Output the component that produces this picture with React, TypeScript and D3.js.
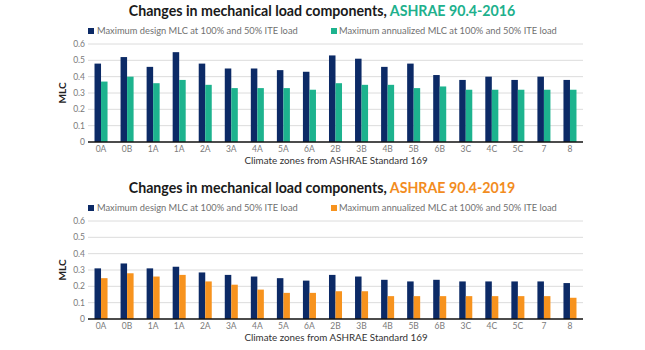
import React from "react";
import * as d3 from "d3";

const zones = ["0A","0B","1A","1A","2A","3A","4A","5A","6A","2B","3B","4B","5B","6B","3C","4C","5C","7","8"];
const design2016 = [0.48,0.52,0.46,0.55,0.48,0.45,0.45,0.44,0.43,0.53,0.51,0.46,0.48,0.41,0.38,0.40,0.38,0.40,0.38];
const annual2016 = [0.37,0.40,0.36,0.38,0.35,0.33,0.33,0.33,0.32,0.36,0.35,0.35,0.33,0.34,0.32,0.32,0.32,0.32,0.32];
const design2019 = [0.31,0.34,0.31,0.32,0.285,0.27,0.26,0.25,0.235,0.27,0.26,0.24,0.23,0.24,0.23,0.23,0.23,0.23,0.22];
const annual2019 = [0.25,0.28,0.26,0.27,0.23,0.21,0.18,0.16,0.16,0.17,0.17,0.14,0.14,0.14,0.14,0.14,0.14,0.14,0.13];
const yTicks = [0,0.1,0.2,0.3,0.4,0.5,0.6];
const seriesNames = ["Maximum design MLC at 100% and 50% ITE load","Maximum annualized MLC at 100% and 50% ITE load"];

const NAVY = "#0c2a66";
const TEAL = "#1db38e";
const ORANGE = "#f7931e";
const FONT = "Lato, 'Open Sans', sans-serif";

function Panel({ top, design, annual, color, titleColor, version }: any) {
  const x = d3.scaleBand<number>().domain(d3.range(zones.length)).range([88, 583]).paddingInner(0.5).paddingOuter(0.25);
  const inner = d3.scaleBand<number>().domain([0, 1]).range([0, x.bandwidth()]);
  const y = d3.scaleLinear().domain([0, 0.6]).range([top + 98, top]);
  const cx = (i: number) => (x(i) as number) + x.bandwidth() / 2;
  return (
    <g>
      <text x={322} y={top - 28} textAnchor="middle" fontFamily={FONT} fontWeight="bold" fontSize={14.2} fill="#1a1a1a">
        Changes in mechanical load components, <tspan fill={titleColor}>{version}</tspan>
      </text>
      <g fontFamily={FONT} fontSize={9.3} fill="#707070">
        <rect x={88} y={top - 16} width={6} height={6} fill={NAVY} />
        <text x={97} y={top - 10}>{seriesNames[0]}</text>
        <rect x={331} y={top - 16} width={6} height={6} fill={color} />
        <text x={339} y={top - 10}>{seriesNames[1]}</text>
      </g>
      {yTicks.map((t) => (
        <g key={t}>
          {t > 0 && <line x1={88} x2={583} y1={y(t)} y2={y(t)} stroke="#dcdcdc" strokeWidth={1} />}
          <text x={85} y={y(t) + 3} textAnchor="end" fontFamily={FONT} fontSize={8.5} fill="#7a7a7a">{t === 0 ? "0" : t.toFixed(1)}</text>
        </g>
      ))}
      {zones.map((z, i) => (
        <g key={i}>
          <rect x={(x(i) as number) + (inner(0) as number)} y={y(design[i])} width={inner.bandwidth()} height={y(0) - y(design[i])} fill={NAVY} />
          <rect x={(x(i) as number) + (inner(1) as number)} y={y(annual[i])} width={inner.bandwidth()} height={y(0) - y(annual[i])} fill={color} />
          <text x={cx(i)} y={y(0) + 10} textAnchor="middle" fontFamily={FONT} fontSize={8.5} fill="#7a7a7a">{z}</text>
        </g>
      ))}
      <line x1={88} x2={583} y1={y(0)} y2={y(0)} stroke="#111" strokeWidth={1.6} />
      <text transform={`translate(66,${y(0.3)}) rotate(-90)`} textAnchor="middle" fontFamily={FONT} fontWeight="bold" fontSize={10} fill="#222">MLC</text>
      <text x={336} y={y(0) + 22} textAnchor="middle" fontFamily={FONT} fontSize={9.8} fill="#333">Climate zones from ASHRAE Standard 169</text>
    </g>
  );
}

export default function App() {
  return (
    <svg width={645} height={350} style={{ position: "absolute", left: 0, top: 0, background: "#fff" }}>
      <rect width={645} height={350} fill="#fff" />
      <Panel top={44} design={design2016} annual={annual2016} color={TEAL} titleColor="#20b08c" version="ASHRAE 90.4-2016" />
      <Panel top={221} design={design2019} annual={annual2019} color={ORANGE} titleColor="#f28c1e" version="ASHRAE 90.4-2019" />
    </svg>
  );
}
